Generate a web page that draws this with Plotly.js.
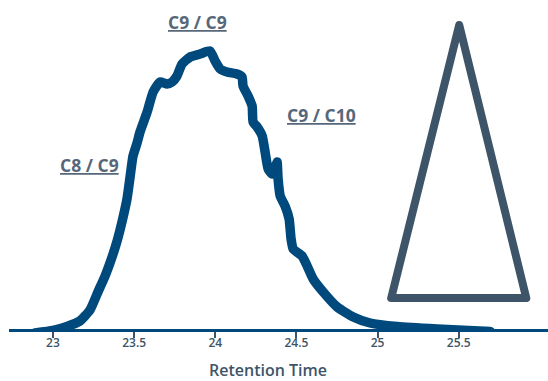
<!DOCTYPE html>
<html>
<head>
<meta charset="utf-8">
<script src="https://cdn.plot.ly/plotly-3.0.1.min.js"></script>
<style>
html,body{margin:0;padding:0;background:#fff;}
#chart{width:548px;height:381px;}
.scatterlayer path.js-line{stroke-linejoin:round;stroke-linecap:round;}
</style>
</head>
<body>
<div id="chart"></div>
<script>
// Retention time (x) and detector signal (y) of the chromatogram peak
var retentionTime = [22.889, 23.000, 23.086, 23.166, 23.228, 23.277, 23.321, 23.364, 23.395, 23.425, 23.456, 23.475, 23.493, 23.518, 23.536, 23.580, 23.617, 23.660, 23.703, 23.734, 23.764, 23.795, 23.845, 23.906, 23.968, 23.999, 24.030, 24.073, 24.134, 24.165, 24.171, 24.202, 24.227, 24.233, 24.258, 24.289, 24.307, 24.326, 24.350, 24.375, 24.381, 24.387, 24.400, 24.430, 24.455, 24.467, 24.480, 24.535, 24.566, 24.603, 24.665, 24.751, 24.850, 24.954, 25.121, 25.367, 25.694];
var signal = [-4, -1.5, 2.5, 8, 19, 37, 53, 72, 88, 107, 130, 152, 173, 186, 197, 217, 237, 247, 245, 247, 253, 265, 272, 275, 278, 268, 260, 257, 255, 252, 243, 233, 223, 207, 202, 193, 177, 160, 155, 164, 167, 150, 133, 123, 110, 90, 80, 73, 63, 50, 37, 22, 12, 6, 2.5, 0, -2.5];

// Decorative triangle (vertices)
var triangleX = [25.084, 25.503, 25.916, 25.084];
var triangleY = [31, 304, 31, 31];

// Peak labels
var labelText = ['C8 / C9', 'C9 / C9', 'C9 / C10'];
var labelX = [23.228, 23.888, 24.652];
var labelY = [164, 307, 214];

// Axis ticks
var tickVals = [23, 23.5, 24, 24.5, 25, 25.5];
var tickText = ['23', '23.5', '24', '24.5', '25', '25.5'];
var axisTitle = 'Retention Time';

var traces = [
  {
    x: retentionTime, y: signal, type: 'scatter', mode: 'lines',
    line: {color: '#00497c', width: 9.5, shape: 'spline', smoothing: 0.5},
    hoverinfo: 'skip', showlegend: false
  },
  {
    x: triangleX, y: triangleY, type: 'scatter', mode: 'lines',
    line: {color: '#3e5468', width: 8},
    hoverinfo: 'skip', showlegend: false
  }
];

var annotations = labelText.map(function(t, i){
  return {
    x: labelX[i], y: labelY[i], xref: 'x', yref: 'y',
    text: '<u>' + t + '</u>', showarrow: false,
    font: {family: 'Open Sans', size: 17.5, color: '#56677a', weight: 700},
    xanchor: 'center', yanchor: 'middle'
  };
});
annotations.push({
  x: 0.4805, y: -0.1246, xref: 'paper', yref: 'paper',
  text: axisTitle, showarrow: false, borderpad: 0,
  font: {family: 'Open Sans', size: 16, color: '#3e5468', weight: 600},
  xanchor: 'center', yanchor: 'middle'
});

var layout = {
  width: 548, height: 381,
  margin: {l: 9, r: 0, t: 0, b: 52},
  paper_bgcolor: '#ffffff', plot_bgcolor: '#ffffff',
  showlegend: false,
  xaxis: {
    range: [22.729, 26.05],
    tickvals: tickVals, ticktext: tickText,
    showgrid: false, zeroline: false,
    showline: true, linecolor: '#00497c', linewidth: 3,
    ticks: 'outside', ticklen: 6, tickwidth: 2, tickcolor: '#3e5468',
    ticklabelstandoff: -5,
    tickfont: {family: 'Open Sans', size: 12, color: '#3e5468', weight: 600},
    fixedrange: true
  },
  yaxis: {
    range: [0, 329], visible: false, showgrid: false, zeroline: false, fixedrange: true
  },
  annotations: annotations
};

Plotly.newPlot('chart', traces, layout, {displayModeBar: false, staticPlot: true});
</script>
</body>
</html>
